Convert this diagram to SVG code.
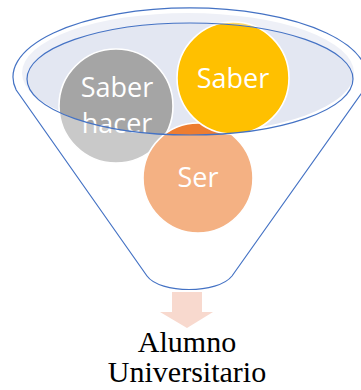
<svg xmlns="http://www.w3.org/2000/svg" width="361" height="390" viewBox="0 0 361 390">
<style>
.circ{stroke:#FFFFFF;stroke-width:1.6}
.lbl{font-family:"Open Sans","Noto Sans","Liberation Sans",sans-serif;font-size:27px;fill:#FFFFFF;text-anchor:middle}
.out{font-family:"Liberation Serif","Times New Roman",serif;font-size:30px;fill:#000000;text-anchor:middle}
.edge{fill:none;stroke:#4472C4;stroke-width:1.2}
</style>
<rect width="361" height="390" fill="#FFFFFF"/>
<g id="funnel-mouth">
<ellipse cx="188" cy="73" rx="166" ry="60" fill="#E3E7F2"/>
</g>
<g id="saber-hacer">
<circle class="circ" cx="116" cy="106" r="57" fill="#A5A5A5"/>
<text class="lbl" x="117" y="97">Saber</text>
<text class="lbl" x="117" y="133">hacer</text>
</g>
<g id="ser">
<circle class="circ" cx="198" cy="178" r="55" fill="#ED7D31"/>
</g>
<g id="saber">
<circle class="circ" cx="233" cy="78" r="56" fill="#FFC000"/>
<text class="lbl" x="233" y="88">Saber</text>
</g>
<g id="funnel">
<path fill="#FFFFFF" fill-opacity="0.4" fill-rule="evenodd" d="M16.2,90 A177,69 0 1 1 363.8,90 L232,276 C218,294 160,294 147,276 Z M27,79 A163,56 0 1 0 353,79 A163,56 0 1 0 27,79 Z"/>
<path class="edge" d="M16.2,90 A177,69 0 1 1 363.8,90 L232,276 C218,294 160,294 147,276 Z"/>
<ellipse class="edge" cx="190" cy="79" rx="163" ry="56"/>
</g>
<g id="ser-label">
<text class="lbl" x="198" y="187">Ser</text>
</g>
<g id="connectors">
<path d="M172,292 H202 V312 H213 L187,328 L160,312 H172 Z" fill="#F8D9CE"/>
</g>
<g id="alumno">
<text class="out" x="187" y="352">Alumno</text>
<text class="out" x="187" y="382">Universitario</text>
</g>
</svg>
